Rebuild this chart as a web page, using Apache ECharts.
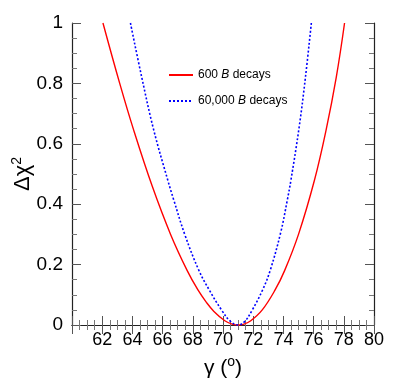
<!DOCTYPE html>
<html>
<head>
<meta charset="utf-8">
<script src="https://cdn.jsdelivr.net/npm/echarts@6/dist/echarts.min.js"></script>
<style>
  html, body { margin: 0; padding: 0; background: #fff; }
  #main { width: 399px; height: 383px; }
</style>
</head>
<body>
<div id="main"></div>
<script>
// values (gamma in degrees, delta chi2)
const redGamma = [62.05, 63.16, 64.08, 65.31, 66.53, 67.63, 68.34, 68.9, 69.4, 70.12, 70.6, 71.0, 71.39, 71.84, 72.6, 73.45, 74.08, 75.0, 76.06, 76.83, 77.5, 78.05]
const redChi2 = [1.0, 0.8, 0.646, 0.46, 0.3, 0.18, 0.116, 0.075, 0.045, 0.014, 0.003, 0.0, 0.003, 0.014, 0.05, 0.116, 0.18, 0.3, 0.48, 0.646, 0.82, 1.0]
const blueGamma = [63.87, 64.62, 65.41, 66.34, 66.74, 67.48, 68.41, 69.09, 69.9, 70.49, 71.0, 71.44, 71.94, 72.62, 73.12, 73.82, 74.26, 74.5, 75.04, 75.46, 75.85]
const blueChi2 = [1.0, 0.82, 0.646, 0.48, 0.414, 0.298, 0.18, 0.116, 0.05, 0.0125, 0.0, 0.012, 0.05, 0.116, 0.18, 0.306, 0.414, 0.48, 0.654, 0.82, 1.0]
const seriesNames = ['600 {i|B} decays', '60,000 {i|B} decays']

const font = 'Liberation Sans'

function zip(xs, ys) {
  return xs.map((x, i) => [x, ys[i]])
}

function axisStyle(showLabel) {
  return {
    axisLine: { lineStyle: { color: '#222', width: 1.2 } },
    axisTick: { inside: true, length: 9, lineStyle: { color: '#555' } },
    minorTick: { show: true, splitNumber: 4, length: 5, lineStyle: { color: '#777' } },
    splitLine: { show: false },
    axisLabel: { show: showLabel }
  }
}

const supStyle = { fontSize: 14, verticalAlign: 'top', padding: [0, 0, 12, 0], fontFamily: font, color: '#000' }

const myChart = echarts.init(document.getElementById('main'))
const option = {
  animation: false,
  grid: { left: 72, right: 25, top: 23, bottom: 58, outerBoundsMode: 'none', containLabel: false },
  legend: {
    left: 163,
    top: 64,
    orient: 'vertical',
    itemWidth: 24,
    itemHeight: 14,
    itemGap: 14,
    itemStyle: { opacity: 0 },
    textStyle: {
      color: '#000',
      fontFamily: font,
      fontSize: 12,
      rich: { i: { fontStyle: 'italic', fontFamily: font, fontSize: 12, color: '#000' } }
    },
    data: seriesNames
  },
  xAxis: [
    Object.assign({
      type: 'value',
      min: 60,
      max: 80,
      interval: 2,
      name: 'γ ({s|o})',
      nameLocation: 'middle',
      nameGap: 30,
      nameMoveOverlap: false,
      nameTextStyle: { color: '#000', fontFamily: font, fontSize: 21, rich: { s: supStyle } }
    }, axisStyle(true), {
      axisLabel: { show: true, color: '#000', fontFamily: font, fontSize: 18, showMinLabel: false, margin: 6 }
    }),
    Object.assign({ type: 'value', position: 'top', min: 60, max: 80, interval: 2 }, axisStyle(false))
  ],
  yAxis: [
    Object.assign({
      type: 'value',
      min: 0,
      max: 1,
      interval: 0.2,
      name: 'Δχ{s|2}',
      nameLocation: 'middle',
      nameGap: 36,
      nameMoveOverlap: false,
      nameRotate: 90,
      nameTextStyle: { color: '#000', fontFamily: font, fontSize: 22, rich: { s: supStyle } }
    }, axisStyle(true), {
      axisLabel: { show: true, color: '#000', fontFamily: font, fontSize: 19, margin: 9 }
    }),
    Object.assign({ type: 'value', position: 'right', min: 0, max: 1, interval: 0.2 }, axisStyle(false))
  ],
  series: [
    {
      name: seriesNames[0],
      type: 'line',
      smooth: 0.4,
      symbol: 'none',
      lineStyle: { color: '#ff0000', width: 1.4 },
      itemStyle: { color: '#ff0000' },
      data: zip(redGamma, redChi2)
    },
    {
      name: seriesNames[1],
      type: 'line',
      smooth: 0.4,
      symbol: 'none',
      lineStyle: { color: '#0000ff', width: 1.6, type: [2, 2] },
      itemStyle: { color: '#0000ff' },
      data: zip(blueGamma, blueChi2)
    }
  ]
}
myChart.setOption(option)
</script>
</body>
</html>
